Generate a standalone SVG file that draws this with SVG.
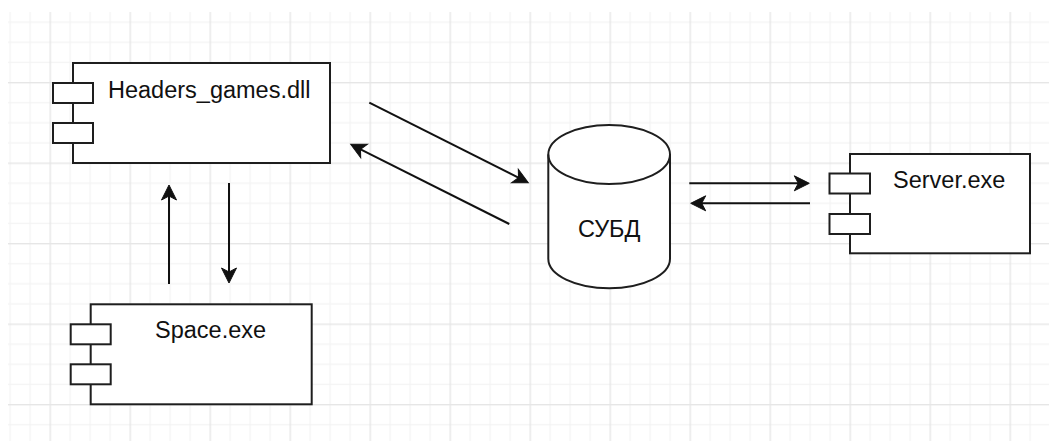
<svg xmlns="http://www.w3.org/2000/svg" width="1049" height="441" viewBox="0 0 1049 441">
<style>
.box{fill:#fff;stroke:#1e1e1e;stroke-width:2}
.lbl{font-family:"Liberation Sans",Arial,sans-serif;font-size:23.5px;fill:#111}
.conn{fill:none;stroke:#111;stroke-width:2}
</style>
<defs>
<pattern id="grid" x="9.5" y="1.5" width="80" height="80.5" patternUnits="userSpaceOnUse">
<rect x="0" y="0" width="1.2" height="80.5" fill="#f3f3f3"/>
<rect x="20" y="0" width="1.2" height="80.5" fill="#f3f3f3"/>
<rect x="60" y="0" width="1.2" height="80.5" fill="#f3f3f3"/>
<rect x="0" y="20.1" width="80" height="1.2" fill="#f3f3f3"/>
<rect x="0" y="40.2" width="80" height="1.2" fill="#f3f3f3"/>
<rect x="0" y="60.3" width="80" height="1.2" fill="#f3f3f3"/>
<rect x="40" y="0" width="1.4" height="80.5" fill="#e6e6e6"/>
<rect x="0" y="0" width="80" height="1.4" fill="#e6e6e6"/>
</pattern>
<marker id="arr" markerUnits="userSpaceOnUse" viewBox="-26 -10 27 20" markerWidth="27" markerHeight="20" refX="-10" refY="0" orient="auto" overflow="visible">
<path d="M0,0 L-15,-7.5 L-11,0 L-15,7.5 Z" fill="#111" stroke="#111" stroke-width="1" stroke-linejoin="miter"/>
</marker>
</defs>
<rect x="0" y="0" width="1049" height="441" fill="#fff"/>
<rect x="8" y="12" width="1041" height="429" fill="url(#grid)"/>

<g id="headers">
<rect class="box" x="73" y="63" width="257" height="100"/>
<rect class="box" x="53" y="83" width="40" height="20"/>
<rect class="box" x="53" y="123" width="40" height="20"/>
<text class="lbl" x="108" y="97.5">Headers_games.dll</text>
</g>

<g id="space">
<rect class="box" x="90.7" y="304.3" width="221" height="100"/>
<rect class="box" x="70.7" y="324.3" width="40" height="20"/>
<rect class="box" x="70.7" y="364.3" width="40" height="20"/>
<text class="lbl" x="155" y="338.3">Space.exe</text>
</g>

<g id="server">
<rect class="box" x="850" y="154" width="180" height="99.3"/>
<rect class="box" x="829.5" y="173.5" width="40.5" height="20"/>
<rect class="box" x="829.5" y="214" width="40.5" height="20"/>
<text class="lbl" x="893" y="188.3">Server.exe</text>
</g>

<g id="dbms">
<path class="box" d="M548.3,154.5 A60.85,29.5 0 0 1 670,154.5 L670,258.8 A60.85,29.5 0 0 1 548.3,258.8 Z"/>
<path class="box" style="fill:none" d="M548.3,154.5 A60.85,29.5 0 0 0 670,154.5"/>
<text class="lbl" x="609.2" y="237.3" text-anchor="middle">СУБД</text>
</g>

<g id="connectors">
<path class="conn" marker-end="url(#arr)" d="M369.3,102.7 L519.4,178.2"/>
<path class="conn" marker-end="url(#arr)" d="M509.3,224 L359.6,148.8"/>
<path class="conn" marker-end="url(#arr)" d="M169,284 L169,195"/>
<path class="conn" marker-end="url(#arr)" d="M229,183 L229,273"/>
<path class="conn" marker-end="url(#arr)" d="M689.3,183.3 L799.3,183.3"/>
<path class="conn" marker-end="url(#arr)" d="M810,203.3 L700.7,203.3"/>
</g>
</svg>
